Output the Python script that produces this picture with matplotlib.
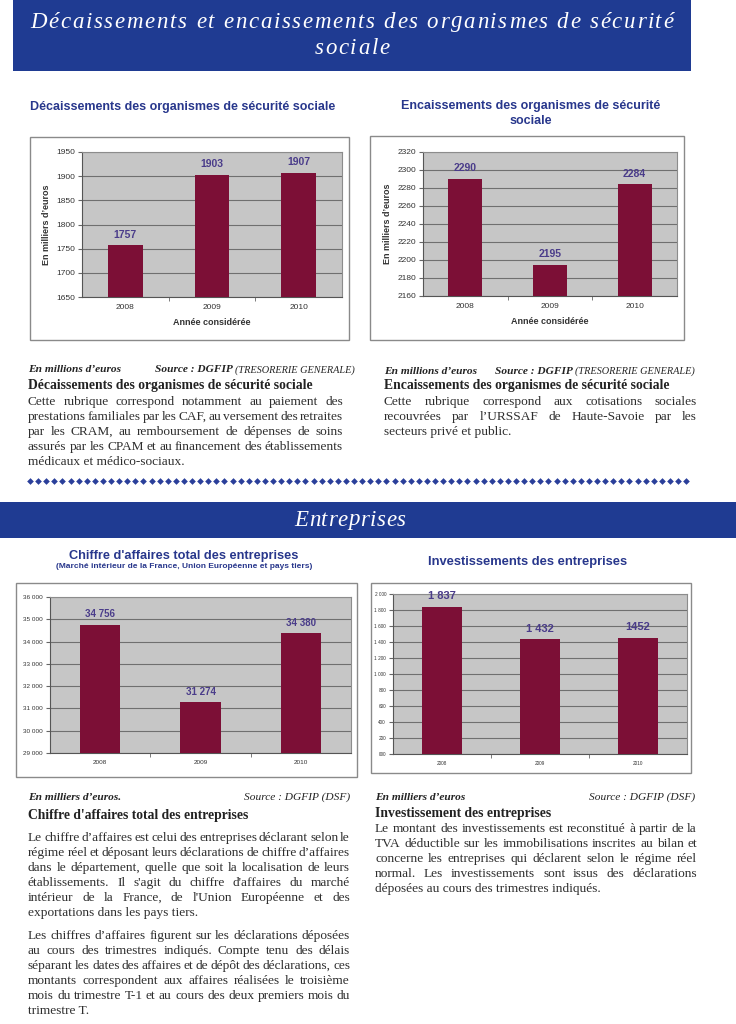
import matplotlib
matplotlib.use('Agg')
import matplotlib.pyplot as plt
from matplotlib.patches import Rectangle
import numpy as np

W, H = 736, 1024

# Data read from the page
years = ['2008', '2009', '2010']
decaissements = [1757, 1903, 1907]
encaissements = [2290, 2195, 2284]
chiffre_affaires = [34756, 31274, 34380]
chiffre_affaires_labels = ['34 756', '31 274', '34 380']
investissements = [1837, 1432, 1452]
investissements_labels = ['1 837', '1 432', '1452']
inv_tick_labels = ['000', '200', '400', '600', '800', '1 000', '1 200',
                   '1 400', '1 600', '1 800', '2 000']

BLUE = '#1f3b92'
TITLE_BLUE = '#28378c'
BAR = '#7c0f36'
VAL = '#4a3c8a'
PLOT_BG = '#c6c6c6'
TEXT = '#2e2e2e'
SANS = 'Liberation Sans'
SERIF = 'Liberation Serif'

fig = plt.figure(figsize=(W / 100, H / 100), dpi=100)
fig.patch.set_facecolor('white')

# overlay axes in pixel coordinates for the page decoration and text
ax0 = fig.add_axes([0, 0, 1, 1])
ax0.set_xlim(0, W)
ax0.set_ylim(H, 0)
ax0.axis('off')

renderer = fig.canvas.get_renderer()


def text_width(s, **kw):
    t = ax0.text(0, 0, s, **kw)
    w = t.get_window_extent(renderer).width
    t.remove()
    return w


def spaced(xc, y, s, spacing, **kw):
    sp = text_width('a a', **kw) - text_width('aa', **kw)
    adv = [sp if c == ' ' else text_width(c, **kw) for c in s]
    total = sum(adv) + spacing * (len(s) - 1)
    x = xc - total / 2
    for c, a in zip(s, adv):
        if c != ' ':
            ax0.text(x, y, c, va='center', **kw)
        x += a + spacing


def justify(x0, x1, y, line, last=False, **kw):
    words = line.split()
    if last or len(words) == 1:
        ax0.text(x0, y, line, va='center', **kw)
        return
    ws = [text_width(w, **kw) for w in words]
    gap = (x1 - x0 - sum(ws)) / (len(words) - 1)
    x = x0
    for w, wd in zip(words, ws):
        ax0.text(x, y, w, va='center', **kw)
        x += wd + gap


def paragraph(x0, x1, y0, lines, step=15, **kw):
    for i, line in enumerate(lines):
        justify(x0, x1, y0 + i * step, line, last=(i == len(lines) - 1), **kw)


def source_line(x_unit, x_src, y, unit_txt):
    ax0.text(x_unit, y, unit_txt, va='center', **unit)
    ax0.text(x_src, y, 'Source : DGFIP', va='center', **unit)
    w = text_width('Source : DGFIP ', **unit)
    ax0.text(x_src + w, y + 0.5, '(TRESORERIE GENERALE)', va='center', **small_caps)


def frac(x0, y0, x1, y1):
    return [x0 / W, 1 - y1 / H, (x1 - x0) / W, (y1 - y0) / H]


def frame(x0, y0, x1, y1):
    ax0.add_patch(Rectangle((x0, y0), x1 - x0, y1 - y0, facecolor='white',
                            edgecolor='#8a8a8a', lw=1.0))


def bar_chart(box, values, labels, ymin, ymax, step, ticklabels, tick_fs,
              val_fs, ylabel=None, xlabel=None):
    ax = fig.add_axes(frac(*box))
    ax.set_facecolor(PLOT_BG)
    x = np.arange(len(values))
    bars = ax.bar(x, values, width=0.4, color=BAR, zorder=3)
    ax.set_xlim(-0.5, len(values) - 0.5)
    ax.set_ylim(ymin, ymax)
    ticks = np.arange(ymin, ymax + step / 2, step)
    ax.set_yticks(ticks)
    ax.set_yticklabels(ticklabels, fontsize=tick_fs, family=SANS, color='#333333')
    ax.set_xticks(x)
    ax.set_xticklabels(years, fontsize=tick_fs, family=SANS, color='#333333')
    ax.set_xticks([0.5, 1.5], minor=True)
    ax.tick_params(axis='x', which='major', length=0, pad=5)
    ax.tick_params(axis='x', which='minor', length=3, color='#666666')
    ax.tick_params(axis='y', length=3, color='#666666', pad=2)
    ax.grid(axis='y', color='#6f6f6f', lw=0.8, zorder=1)
    ax.set_axisbelow(True)
    for s in ax.spines.values():
        s.set_color('#8c8c8c')
        s.set_linewidth(0.8)
    ax.spines['left'].set_color('#555555')
    ax.spines['bottom'].set_color('#555555')
    for b, lab in zip(bars, labels):
        ax.annotate(lab, (b.get_x() + b.get_width() / 2, b.get_height()),
                    xytext=(0, 4), textcoords='offset points', ha='center',
                    va='bottom', fontsize=val_fs, fontweight='bold',
                    color=VAL, family=SANS, annotation_clip=False)
    if ylabel:
        ax.set_ylabel(ylabel, fontsize=6.5, fontweight='bold', family=SANS,
                      color='#333333', labelpad=4)
    if xlabel:
        ax.set_xlabel(xlabel, fontsize=6.5, fontweight='bold', family=SANS,
                      color='#333333', labelpad=5)
    return ax


# ---- top banner ----
ax0.add_patch(Rectangle((13, 0), 678, 71, facecolor=BLUE, edgecolor='none'))
banner_kw = dict(fontsize=16.5, style='italic', family=SERIF, color='white')
spaced(352, 22, 'Décaissements et encaissements des organismes de sécurité', 1.7, **banner_kw)
spaced(352, 48, 'sociale', 1.7, **banner_kw)

# ---- chart titles (top) ----
title_kw = dict(fontsize=9.0, fontweight='bold', family=SANS, color=TITLE_BLUE,
                ha='center', va='center')
ax0.text(183, 107, 'Décaissements des organismes de sécurité sociale', **title_kw)
ax0.text(531, 106, 'Encaissements des organismes de sécurité', **title_kw)
ax0.text(531, 121, 'sociale', **title_kw)

frame(30, 137, 349, 340)
frame(370, 136, 684, 340)
bar_chart((82, 152, 342, 297), decaissements, [str(v) for v in decaissements],
          1650, 1950, 50, [str(v) for v in range(1650, 1951, 50)], 6, 7.5,
          ylabel='En milliers d\u2019euros', xlabel='Année considérée')
bar_chart((423, 152, 677, 296), encaissements, [str(v) for v in encaissements],
          2160, 2320, 20, [str(v) for v in range(2160, 2321, 20)], 6, 7.5,
          ylabel='En milliers d\u2019euros', xlabel='Année considérée')

# ---- text under the top charts ----
body = dict(fontsize=9.6, family=SERIF, color=TEXT)
head = dict(fontsize=9.8, family=SERIF, color='#222222', fontweight='bold')
unit = dict(fontsize=8.2, family=SERIF, color='#222222', style='italic', fontweight='bold')
small_caps = dict(fontsize=7.4, family=SERIF, color='#222222', style='italic')

source_line(28, 155, 370, 'En millions d\u2019euros')
ax0.text(28, 386, 'Décaissements des organismes de sécurité sociale', va='center', **head)
paragraph(28, 343, 402, [
    'Cette rubrique correspond notamment au paiement des',
    'prestations familiales par les CAF, au versement des retraites',
    'par les CRAM, au remboursement de dépenses de soins',
    'assurés par les CPAM et au financement des établissements',
    'médicaux et médico-sociaux.'], **body)

source_line(384, 495, 371, 'En millions d\u2019euros')
ax0.text(384, 386, 'Encaissements des organismes de sécurité sociale', va='center', **head)
paragraph(384, 697, 402, [
    'Cette rubrique correspond aux cotisations sociales',
    'recouvrées par l\u2019URSSAF de Haute-Savoie par les',
    'secteurs privé et public.'], **body)

# row of diamonds
dx = np.arange(30, 690, 8.1)
ax0.plot(dx, np.full_like(dx, 481), 'D', color='#2a3f9a', ms=3.4, mew=0)

# ---- second banner ----
ax0.add_patch(Rectangle((0, 502), W, 36, facecolor=BLUE, edgecolor='none'))
spaced(350, 520, 'Entreprises', 0.6, **banner_kw)

# ---- chart titles (bottom) ----
ax0.text(184, 556, 'Chiffre d\'affaires total des entreprises',
         **dict(title_kw, fontsize=9.2))
ax0.text(184, 566, '(Marché intérieur de la France, Union Européenne et pays tiers)',
         **dict(title_kw, fontsize=6.0))
ax0.text(528, 562, 'Investissements des entreprises', **dict(title_kw, fontsize=9.3))

frame(16, 583, 357, 777)
frame(371, 583, 691, 773)
ca_ticks = [f'{v:,}'.replace(',', ' ') for v in range(29000, 36001, 1000)]
bar_chart((50, 597, 351, 753), chiffre_affaires, chiffre_affaires_labels,
          29000, 36000, 1000, ca_ticks, 4.6, 7)
bar_chart((393, 594, 687, 754), investissements, investissements_labels,
          0, 2000, 200, inv_tick_labels, 3.4, 8)

# ---- text under the bottom charts ----
ax0.text(28, 797, 'En milliers d\u2019euros.', va='center', **unit)
ax0.text(350, 797, 'Source : DGFIP (DSF)', va='center', ha='right',
         **dict(unit, fontweight='normal'))
ax0.text(28, 815, 'Chiffre d\'affaires total des entreprises', va='center', **head)
paragraph(28, 350, 838, [
    'Le chiffre d\u2019affaires est celui des entreprises déclarant selon le',
    'régime réel et déposant leurs déclarations de chiffre d\u2019affaires',
    'dans le département, quelle que soit la localisation de leurs',
    'établissements. Il s\'agit du chiffre d\'affaires du marché',
    'intérieur de la France, de l\'Union Européenne et des',
    'exportations dans les pays tiers.'], **body)
paragraph(28, 350, 936, [
    'Les chiffres d\u2019affaires figurent sur les déclarations déposées',
    'au cours des trimestres indiqués. Compte tenu des délais',
    'séparant les dates des affaires et de dépôt des déclarations, ces',
    'montants correspondent aux affaires réalisées le troisième',
    'mois du trimestre T-1 et au cours des deux premiers mois du',
    'trimestre T.'], **body)

ax0.text(375, 797, 'En milliers d\u2019euros', va='center', **unit)
ax0.text(695, 797, 'Source : DGFIP (DSF)', va='center', ha='right',
         **dict(unit, fontweight='normal'))
ax0.text(375, 814, 'Investissement des entreprises', va='center', **head)
paragraph(375, 697, 829, [
    'Le montant des investissements est reconstitué à partir de la',
    'TVA déductible sur les immobilisations inscrites au bilan et',
    'concerne les entreprises qui déclarent selon le régime réel',
    'normal. Les investissements sont issus des déclarations',
    'déposées au cours des trimestres indiqués.'], **body)

fig.savefig('out.png', dpi=100)
